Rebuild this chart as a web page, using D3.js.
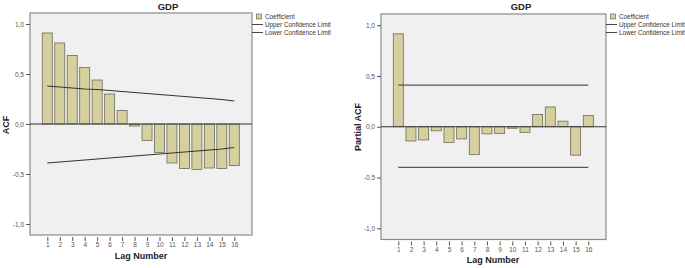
<!DOCTYPE html>
<html><head><meta charset="utf-8">
<script src="https://cdn.jsdelivr.net/npm/d3@7"></script>
<style>body{margin:0;background:#fff;font-family:Arial,"Liberation Sans",sans-serif}</style>
</head><body><svg id="c" width="685" height="268"></svg>
<script>
const lags = [1,2,3,4,5,6,7,8,9,10,11,12,13,14,15,16];
const acf = [0.91,0.81,0.685,0.565,0.44,0.30,0.135,-0.02,-0.165,-0.285,-0.39,-0.445,-0.455,-0.44,-0.445,-0.415];
const acfUpper = [0.38,0.37,0.36,0.35,0.345,0.335,0.325,0.315,0.305,0.295,0.285,0.275,0.265,0.255,0.245,0.23];
const acfLower = [-0.39,-0.38,-0.37,-0.36,-0.35,-0.34,-0.33,-0.32,-0.31,-0.30,-0.29,-0.28,-0.27,-0.26,-0.25,-0.235];
const pacf = [0.915,-0.14,-0.13,-0.04,-0.155,-0.12,-0.275,-0.07,-0.065,-0.015,-0.055,0.12,0.195,0.055,-0.28,0.11];
const pacfUpper = [0.41,0.41,0.41,0.41,0.41,0.41,0.41,0.41,0.41,0.41,0.41,0.41,0.41,0.41,0.41,0.41];
const pacfLower = [-0.40,-0.40,-0.40,-0.40,-0.40,-0.40,-0.40,-0.40,-0.40,-0.40,-0.40,-0.40,-0.40,-0.40,-0.40,-0.40];
const yTicks = [1.0,0.5,0.0,-0.5,-1.0];
const yTickLabels = ["1,0","0,5","0,0","-0,5","-1,0"];
const legendLabels = ["Coefficient","Upper Confidence Limit","Lower Confidence Limit"];
const title = "GDP";

const svg = d3.select("#c");

function panel(o){
  const g = svg.append("g");
  const y = d3.scaleLinear().domain([-1.11,1.11]).range([o.bottom,o.top]);
  const x = d3.scaleLinear().domain([1,16]).range([o.x1,o.x16]);
  // background
  g.append("rect").attr("x",o.left).attr("y",o.top).attr("width",o.right-o.left).attr("height",o.bottom-o.top)
    .attr("fill","#f0f0f0").attr("stroke","#8a8a8a").attr("stroke-width",1.2);
  // bars
  const bw = 10;
  g.selectAll("rect.bar").data(o.vals).join("rect").attr("class","bar")
    .attr("x",(d,i)=>x(lags[i])-bw/2).attr("width",bw)
    .attr("y",d=>y(Math.max(0,d))).attr("height",d=>Math.abs(y(d)-y(0)))
    .attr("fill","#d5d09e").attr("stroke","#6b6b5a").attr("stroke-width",0.8);
  // zero line
  g.append("line").attr("x1",o.left).attr("x2",o.right).attr("y1",y(0)).attr("y2",y(0)).attr("stroke","#333").attr("stroke-width",1);
  // confidence
  const line = d3.line().x((d,i)=>x(lags[i])).y(d=>y(d));
  [o.up,o.lo].forEach(s=>g.append("path").attr("d",line(s)).attr("fill","none").attr("stroke",o.ciColor).attr("stroke-width",1.1));
  // y axis
  const ya = g.append("g").attr("transform",`translate(${o.left},0)`)
    .call(d3.axisLeft(y).tickValues(yTicks).tickFormat((d,i)=>yTickLabels[i]).tickSize(4).tickSizeOuter(0));
  ya.select(".domain").remove();
  ya.selectAll("line").attr("stroke","#555");
  ya.selectAll("text").attr("font-size",6.5).attr("fill","#555").attr("dx",1).attr("font-family","Arial,'Liberation Sans',sans-serif");
  // x axis
  const xa = g.append("g").attr("transform",`translate(0,${o.bottom+2})`)
    .call(d3.axisBottom(x).tickValues(lags).tickFormat(d=>d).tickSize(4).tickSizeOuter(0));
  xa.select(".domain").remove();
  xa.selectAll("line").attr("stroke","#555");
  xa.selectAll("text").attr("font-size",6.5).attr("fill","#555").attr("dy",3).attr("font-family","Arial,'Liberation Sans',sans-serif");
  // title
  g.append("text").attr("x",o.titleX).attr("y",10).attr("text-anchor","middle").attr("font-size",9.5).attr("font-weight","bold").attr("fill","#222").text(title);
  g.append("text").attr("x",o.xlabX).attr("y",o.xlabY).attr("text-anchor","middle").attr("font-size",9).attr("font-weight","bold").attr("fill","#222").text("Lag Number");
  g.append("text").attr("transform",`translate(${o.ylabX},${o.ylabY}) rotate(-90)`).attr("text-anchor","middle").attr("font-size",9).attr("font-weight","bold").attr("fill","#222").text(o.ylab);
  // legend
  const lg = g.append("g").attr("transform",`translate(${o.legX},0)`);
  lg.append("rect").attr("x",4.5).attr("y",14).attr("width",5).attr("height",5).attr("fill","#d5d09e").attr("stroke","#6b6b5a").attr("stroke-width",0.7);
  lg.append("line").attr("x1",0).attr("x2",11).attr("y1",24.5).attr("y2",24.5).attr("stroke","#333").attr("stroke-width",0.9);
  lg.append("line").attr("x1",0).attr("x2",11).attr("y1",32.5).attr("y2",32.5).attr("stroke","#333").attr("stroke-width",0.9);
  legendLabels.forEach((t,i)=>lg.append("text").attr("x",13).attr("y",18.8+i*8).attr("font-size",6.3).attr("fill","#333").text(t));
}

panel({left:30,right:252,top:13,bottom:235,x1:47.3,x16:234.3,vals:acf,up:acfUpper,lo:acfLower,ciColor:"#333",
  titleX:168,xlabX:141,xlabY:259,ylabX:9,ylabY:125,ylab:"ACF",legX:252});
panel({left:381,right:606,top:14,bottom:239.5,x1:398.3,x16:588.3,vals:pacf,up:pacfUpper,lo:pacfLower,ciColor:"#555",
  titleX:521,xlabX:493,xlabY:263,ylabX:361,ylabY:127,ylab:"Partial ACF",legX:606});
</script></body></html>
